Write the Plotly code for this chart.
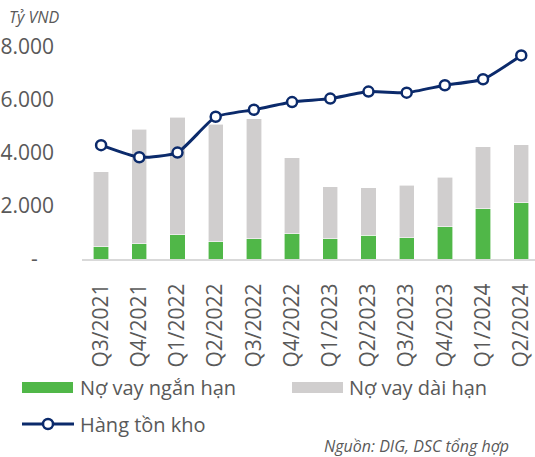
import plotly.graph_objects as go

quarters = ["Q3/2021", "Q4/2021", "Q1/2022", "Q2/2022", "Q3/2022", "Q4/2022",
            "Q1/2023", "Q2/2023", "Q3/2023", "Q4/2023", "Q1/2024", "Q2/2024"]
short_debt = [455, 570, 910, 645, 760, 960, 760, 900, 810, 1210, 1895, 2120]
total_debt = [3295, 4900, 5350, 5075, 5300, 3825, 2730, 2690, 2790, 3080, 4230, 4305]
long_debt = [t - s for t, s in zip(total_debt, short_debt)]
inventory = [4295, 3840, 4015, 5365, 5630, 5920, 6050, 6315, 6275, 6555, 6780, 7680]

y_tickvals = [0, 2000, 4000, 6000, 8000]
y_ticktext = ["-\u00a0\u00a0\u00a0", "2.000", "4.000", "6.000", "8.000"]

GREEN = "#50B748"
GREY = "#D0CECE"
NAVY = "#0B2A6B"
TXT = "#595959"
FONT = "Open Sans"

W, H = 535, 457
ML, MR, MT, MB = 82, 0, 35, 198
PW, PH = W - ML - MR, H - MT - MB


def px(x):
    return (x - ML) / PW


def py(y):
    return (H - MB - y) / PH


fig = go.Figure()
fig.add_trace(go.Bar(x=quarters, y=short_debt, name="Nợ vay ngắn hạn",
                     marker=dict(color=GREEN, line=dict(color="white", width=0.6)),
                     width=0.4))
fig.add_trace(go.Bar(x=quarters, y=long_debt, name="Nợ vay dài hạn",
                     marker=dict(color=GREY, line=dict(color="white", width=0.6)),
                     width=0.4))
fig.add_trace(go.Scatter(x=quarters, y=inventory, name="Hàng tồn kho",
                         mode="lines+markers", cliponaxis=False,
                         line=dict(color=NAVY, width=3, shape="spline", smoothing=0.5),
                         marker=dict(size=10, color="white", line=dict(color=NAVY, width=2.5))))

shapes = [
    dict(type="rect", xref="paper", yref="paper", x0=px(22), x1=px(73), y0=py(393), y1=py(382),
         fillcolor=GREEN, line=dict(width=0)),
    dict(type="rect", xref="paper", yref="paper", x0=px(292), x1=px(343), y0=py(393), y1=py(382),
         fillcolor=GREY, line=dict(width=0)),
    dict(type="line", xref="paper", yref="paper", x0=px(22), x1=px(74), y0=py(424), y1=py(424),
         line=dict(color=NAVY, width=3)),
    dict(type="circle", xref="paper", yref="paper", x0=px(43), x1=px(53), y0=py(429), y1=py(419),
         fillcolor="white", line=dict(color=NAVY, width=2.5)),
]

annotations = [
    dict(text="Nợ vay ngắn hạn", x=px(78), y=py(387), xanchor="left", yanchor="middle",
         font=dict(size=20, color=TXT, family=FONT)),
    dict(text="Nợ vay dài hạn", x=px(347), y=py(387), xanchor="left", yanchor="middle",
         font=dict(size=20, color=TXT, family=FONT)),
    dict(text="Hàng tồn kho", x=px(78), y=py(424), xanchor="left", yanchor="middle",
         font=dict(size=20, color=TXT, family=FONT)),
    dict(text="<i>Nguồn: DIG, DSC tổng hợp</i>", x=px(510), y=py(446), xanchor="right", yanchor="middle",
         font=dict(size=16, color=TXT, family=FONT), borderpad=0),
    dict(text="<i>Tỷ VND</i>", x=px(7), y=py(17), xanchor="left", yanchor="middle",
         font=dict(size=16, color=TXT, family=FONT)),
]
for a in annotations:
    a.update(xref="paper", yref="paper", showarrow=False)

fig.update_layout(
    width=W, height=H,
    margin=dict(l=ML, r=MR, t=MT, b=MB),
    barmode="stack",
    showlegend=False,
    plot_bgcolor="white", paper_bgcolor="white",
    font=dict(family=FONT, color=TXT),
    shapes=shapes,
    annotations=annotations,
    xaxis=dict(range=[-0.5, 11.36], tickangle=-90, showgrid=False, showline=True,
               linecolor="#D9D9D9", linewidth=2, ticks="", ticklabelstandoff=14,
               tickfont=dict(size=21, color=TXT, family=FONT)),
    yaxis=dict(range=[0, 8450], tickvals=y_tickvals, ticktext=y_ticktext, showgrid=False,
               zeroline=False, showline=False, ticks="", ticklabelstandoff=27,
               tickfont=dict(size=21, color=TXT, family=FONT)),
)

fig.write_html("out.html", config={"displayModeBar": False},
               post_script="document.body.style.margin='0';document.body.style.overflow='hidden';")
